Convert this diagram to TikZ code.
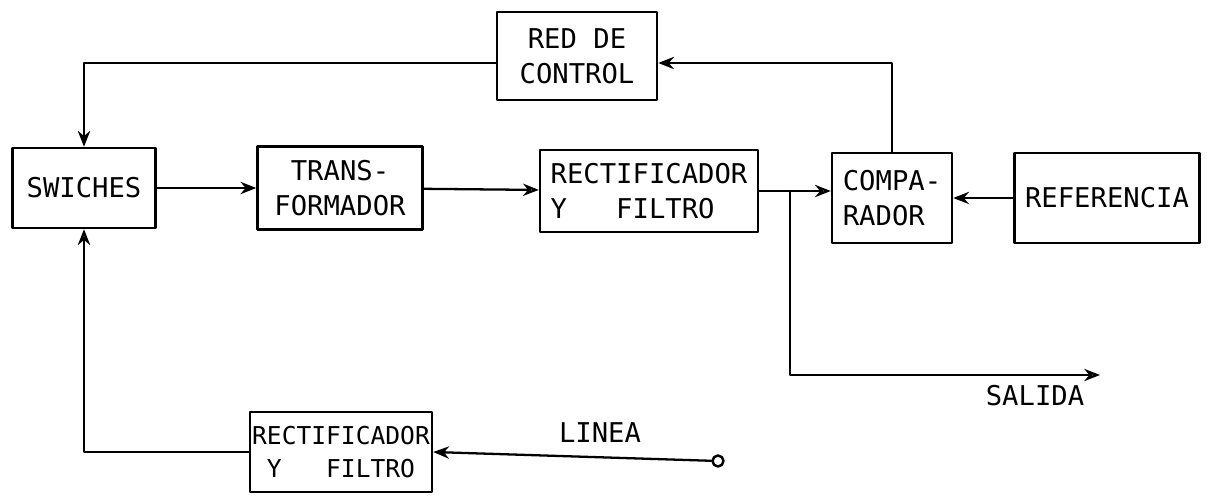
\documentclass[tikz,border=0pt]{standalone}
\usepackage{fontspec}
\setmonofont{DejaVu Sans Mono}
\usetikzlibrary{arrows.meta}

\begin{document}
\begin{tikzpicture}[
    x=0.02cm,
    y=-0.02cm,
    line cap=round,
    line join=round,
    font=\ttfamily\fontsize{15.5}{20}\selectfont
]

\tikzset{
    block/.style={
        draw,
        line width=1.4pt,
        align=center,
        inner sep=0pt
    },
    link/.style={
        draw,
        line width=1.3pt
    },
    flow/.style={
        link,
        -{Stealth[length=9pt,width=7pt]}
    },
    flow open/.style={
        link,
        -{Stealth[open,length=9pt,width=7pt]}
    },
    terminal/.style={
        circle,
        draw,
        line width=1.4pt,
        minimum size=0.22cm,
        inner sep=0pt
    }
}

\useasboundingbox (0,0) rectangle (1209,496);

\node[block, minimum width=3.2cm, minimum height=1.76cm] (redc) at (577,56) {RED DE\\CONTROL};
\node[block, minimum width=2.86cm, minimum height=1.6cm] (swi) at (84,188) {SWICHES};
\node[block, minimum width=3.3cm, minimum height=1.66cm] (trans) at (340,188) {TRANS-\\FORMADOR};
\node[block, align=left, minimum width=4.36cm, minimum height=1.64cm] (rect) at (649,191) {RECTIFICADOR\\Y\ \ \ FILTRO};
\node[block, align=left, minimum width=2.4cm, minimum height=1.8cm] (comp) at (892,198) {COMPA-\\RADOR};
\node[block, minimum width=3.7cm, minimum height=1.8cm] (ref) at (1107,198) {REFERENCIA};
\node[block, align=left, minimum width=3.64cm, minimum height=1.6cm, font=\ttfamily\fontsize{14}{19}\selectfont] (rectb) at (341,452) {RECTIFICADOR\\\ Y\ \ \ FILTRO};

\node (salidatxt) at (1035,396) {SALIDA};
\node (lineatxt) at (600,433) {LINEA};
\node[terminal] (term) at (718,461) {};

\coordinate (tap) at (790,191);
\coordinate (salida) at (1100,375);

% control loop
\draw[flow] ([yshift=-0.14cm]redc.west) -| (swi.north);
\draw[flow] (comp.north) |- ([yshift=-0.14cm]redc.east);

% power path
\draw[flow] (swi) -- (trans);
\draw[flow open] (trans) -- (rect);
\draw[flow open] (rect.east) -- (rect.east -| comp.west);
\draw[flow] (ref) -- (comp);
\draw[flow open] (tap) |- (salida);

% line input
\draw[flow open] (rectb.west) -| (swi.south);
\draw[flow] (term) -- (rectb.east);

\end{tikzpicture}
\end{document}
